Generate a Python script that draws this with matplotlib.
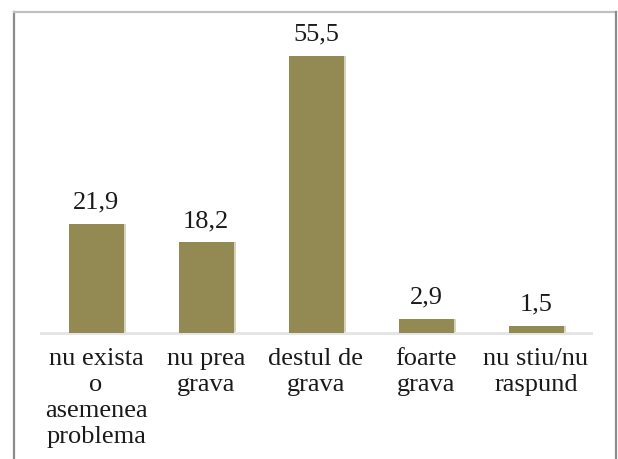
import matplotlib
matplotlib.use("Agg")
import matplotlib.pyplot as plt
from matplotlib.lines import Line2D

categories = ["nu exista\no\nasemenea\nproblema", "nu prea\ngrava", "destul de\ngrava", "foarte\ngrava", "nu stiu/nu\nraspund"]
values = [21.9, 18.2, 55.5, 2.9, 1.5]
value_labels = ["21,9", "18,2", "55,5", "2,9", "1,5"]

FAM = 'Liberation Serif'
plt.rcParams['font.family'] = FAM

W, H = 618, 459
fig = plt.figure(figsize=(W/100, H/100), dpi=100)
ax = fig.add_axes([41/W, (H-333)/H, 550/W, 300/H])

x = list(range(len(categories)))
bw = 0.5
sw = 0.025
ax.bar([i - bw/2 for i in x], values, width=bw + sw, align='edge', color='#d6d2bb', zorder=2)
ax.bar([i - bw/2 for i in x], values, width=bw, align='edge', color='#938953', zorder=3)

for i, v, lab in zip(x, values, value_labels):
    ax.text(i, v + 2.0, lab, ha='center', va='bottom', fontsize=19,
            color='#1a1a1a', family=FAM)

ax.set_xlim(-0.5, len(categories) - 0.5)
ax.set_ylim(0, 60)
ax.set_xticks(x)
ax.set_xticklabels(categories, fontsize=19, color='#1a1a1a', linespacing=1.23, family=FAM)
ax.tick_params(axis='x', length=0, pad=11)
ax.set_yticks([])
for s in ['top', 'right', 'left']:
    ax.spines[s].set_visible(False)
ax.spines['bottom'].set_color('#e3e3e3')
ax.spines['bottom'].set_linewidth(2)

# outer chart frame
fig.add_artist(Line2D([14/W, 14/W], [0, 1 - 12/H], transform=fig.transFigure, color='#8c8c8c', lw=1.6))
fig.add_artist(Line2D([14/W, 616/W], [1 - 12/H, 1 - 12/H], transform=fig.transFigure, color='#c0c0c0', lw=1.6))
fig.add_artist(Line2D([616/W, 616/W], [0, 1 - 12/H], transform=fig.transFigure, color='#8c8c8c', lw=1.6))

fig.savefig("out.png", dpi=100)
